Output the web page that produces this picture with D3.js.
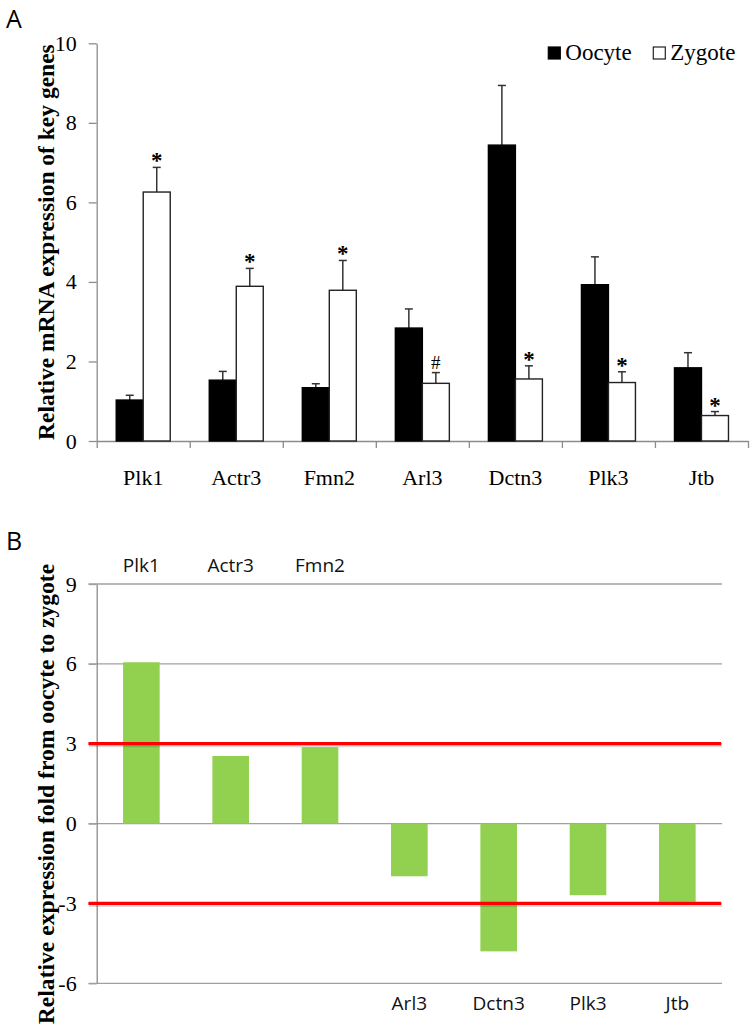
<!DOCTYPE html>
<html><head><meta charset="utf-8">
<script src="https://cdn.jsdelivr.net/npm/d3@7"></script>
<style>html,body{margin:0;padding:0;background:#fff;}svg{display:block;}</style>
</head><body>
<svg id="chart" width="755" height="1029"></svg>
<script>
// ---- data ----
const categories = ["Plk1","Actr3","Fmn2","Arl3","Dctn3","Plk3","Jtb"];
const seriesNames = ["Oocyte","Zygote"];
const oocyte    = [1.03, 1.53, 1.34, 2.84, 7.44, 3.93, 1.84];
const oocyteErr = [0.12, 0.22, 0.10, 0.48, 1.50, 0.70, 0.38];
const zygote    = [6.26, 3.89, 3.79, 1.45, 1.56, 1.47, 0.64];
const zygoteErr = [0.62, 0.45, 0.75, 0.27, 0.33, 0.27, 0.10];
const sigMarks  = ["*","*","*","#","*","*","*"];
const foldChange = [6.06, 2.54, 2.87, -1.98, -4.80, -2.69, -2.94];
const thresholds = [3, -3];
const yTicksA = [0,2,4,6,8,10];
const yTicksB = [-6,-3,0,3,6,9];

const svg = d3.select("#chart");
const serif = "'Liberation Serif','Times New Roman',serif";
const sans = "'Open Sans','Noto Sans',sans-serif";
const axisGrey = "#8c8c8c";

// ================= Panel A =================
const A = {left: 96.7, right: 748, top: 43.3, bottom: 441};
const xA = d3.scaleBand().domain(categories).range([A.left, A.right]).padding(0);
const yA = d3.scaleLinear().domain([0,10]).range([A.bottom, A.top]);
const groupW = 54;
const xInner = d3.scaleBand().domain(seriesNames).range([0, groupW]);
const off = (xA.bandwidth() - groupW) / 2;

svg.append("text").attr("x", 6).attr("y", 28).attr("font-family", sans)
  .attr("font-size", 25).attr("fill", "#000").text("A");

// y axis
const gyA = svg.append("g").attr("transform", `translate(${A.left},0)`)
  .call(d3.axisLeft(yA).tickValues(yTicksA).tickSize(8).tickSizeOuter(0).tickPadding(12).tickFormat(d => String(d)));
gyA.attr("font-family", serif);
gyA.select(".domain").attr("stroke", axisGrey).attr("stroke-width", 1.3);
gyA.selectAll(".tick line").attr("stroke", axisGrey).attr("stroke-width", 1.3);
gyA.selectAll(".tick text").attr("font-family", serif).attr("font-size", 22).attr("fill", "#000");

// x axis (boundary ticks)
const idx = d3.scaleLinear().domain([0, categories.length]).range([A.left, A.right]);
const gxA = svg.append("g").attr("transform", `translate(0,${A.bottom})`)
  .call(d3.axisBottom(idx).tickValues(d3.range(categories.length + 1)).tickSize(7).tickSizeOuter(0).tickFormat(""));
gxA.select(".domain").attr("stroke", axisGrey).attr("stroke-width", 1.3);
gxA.selectAll(".tick line").attr("stroke", axisGrey).attr("stroke-width", 1.3);

// category labels
const gxLab = svg.append("g").attr("transform", `translate(0,${A.bottom})`)
  .call(d3.axisBottom(xA).tickSize(0).tickPadding(28));
gxLab.attr("font-family", serif);
gxLab.select(".domain").remove();
gxLab.selectAll(".tick text").attr("font-family", serif).attr("font-size", 22).attr("fill", "#000");

// bars
const dataA = categories.map((c, i) => ({cat: c, i,
  vals: [{s: "Oocyte", v: oocyte[i], e: oocyteErr[i]}, {s: "Zygote", v: zygote[i], e: zygoteErr[i]}]}));

const groups = svg.append("g").selectAll("g").data(dataA).join("g")
  .attr("transform", d => `translate(${xA(d.cat) + off},0)`);

// error bars (behind bars)
groups.selectAll("g.err").data(d => d.vals).join("g").attr("class", "err").each(function(d) {
  const g = d3.select(this);
  const cx = xInner(d.s) + xInner.bandwidth() / 2;
  g.append("line").attr("x1", cx).attr("x2", cx).attr("y1", yA(d.v)).attr("y2", yA(d.v + d.e))
    .attr("stroke", "#333").attr("stroke-width", 1.5);
  g.append("line").attr("x1", cx - 4).attr("x2", cx + 4).attr("y1", yA(d.v + d.e)).attr("y2", yA(d.v + d.e))
    .attr("stroke", "#333").attr("stroke-width", 1.5);
});

groups.selectAll("rect").data(d => d.vals).join("rect")
  .attr("x", d => xInner(d.s))
  .attr("y", d => yA(d.v))
  .attr("width", xInner.bandwidth())
  .attr("height", d => yA(0) - yA(d.v))
  .attr("fill", d => d.s === "Oocyte" ? "#000" : "#fff")
  .attr("stroke", d => d.s === "Oocyte" ? "#000" : "#222")
  .attr("stroke-width", 1.4);

// significance marks above zygote error bars
groups.append("text")
  .attr("x", xInner("Zygote") + xInner.bandwidth() / 2)
  .attr("y", d => yA(zygote[d.i] + zygoteErr[d.i]) - (sigMarks[d.i] === "#" ? 4 : -1))
  .attr("text-anchor", "middle")
  .attr("font-family", serif)
  .attr("font-size", d => sigMarks[d.i] === "#" ? 19 : 23)
  .attr("font-weight", d => sigMarks[d.i] === "#" ? "normal" : "bold")
  .attr("fill", "#000")
  .text(d => sigMarks[d.i]);

// legend
const legX = [548.3, 653.3];
const leg = svg.append("g").selectAll("g").data(seriesNames).join("g")
  .attr("transform", (d, i) => `translate(${legX[i]},47)`);
leg.append("rect").attr("width", 12).attr("height", 12)
  .attr("fill", d => d === "Oocyte" ? "#000" : "#fff")
  .attr("stroke", d => d === "Oocyte" ? "#000" : "#222").attr("stroke-width", 1.2);
leg.append("text").attr("x", 17).attr("y", 13).attr("font-family", serif).attr("font-size", 23)
  .attr("fill", "#000").text(d => d);

// y title
svg.append("text").attr("transform", `translate(54,${(A.top + A.bottom) / 2}) rotate(-90)`)
  .attr("text-anchor", "middle").attr("font-family", serif).attr("font-weight", "bold")
  .attr("font-size", 23.5).attr("fill", "#000").text("Relative mRNA expression of key genes");

// ================= Panel B =================
const B = {left: 96.7, right: 722, top: 584, bottom: 983.3};
const xB = d3.scaleBand().domain(categories).range([B.left, B.right]).padding(0);
const yB = d3.scaleLinear().domain([-6, 9]).range([B.bottom, B.top]);
const barWB = xB.bandwidth() * 0.41;

svg.append("text").attr("x", 6).attr("y", 550).attr("font-family", sans)
  .attr("font-size", 25).attr("fill", "#000").text("B");

// gridlines
svg.append("g").selectAll("line").data(yTicksB).join("line")
  .attr("x1", 88.5).attr("x2", B.right)
  .attr("y1", d => yB(d)).attr("y2", d => yB(d))
  .attr("stroke", "#a0a0a0").attr("stroke-width", 1.3);

const gyB = svg.append("g").attr("transform", `translate(${B.left},0)`)
  .call(d3.axisLeft(yB).tickValues(yTicksB).tickSize(8).tickSizeOuter(0).tickPadding(12).tickFormat(d => String(d)));
gyB.attr("font-family", serif);
gyB.select(".domain").attr("stroke", axisGrey).attr("stroke-width", 1.3);
gyB.selectAll(".tick line").attr("stroke", "#a0a0a0").attr("stroke-width", 1.3);
gyB.selectAll(".tick text").attr("font-family", serif).attr("font-size", 22).attr("fill", "#000");

// bars
svg.append("g").selectAll("rect").data(foldChange).join("rect")
  .attr("x", (d, i) => xB(categories[i]) + (xB.bandwidth() - barWB) / 2)
  .attr("y", d => yB(Math.max(0, d)))
  .attr("width", barWB)
  .attr("height", d => Math.abs(yB(d) - yB(0)))
  .attr("fill", "#92d050");

// threshold lines
const th = svg.append("g");
th.selectAll("line.sh").data(thresholds).join("line").attr("class", "sh")
  .attr("x1", 89).attr("x2", B.right).attr("y1", d => yB(d) + 2).attr("y2", d => yB(d) + 2)
  .attr("stroke", "#000").attr("stroke-opacity", 0.15).attr("stroke-width", 3);
th.selectAll("line.r").data(thresholds).join("line").attr("class", "r")
  .attr("x1", 88.5).attr("x2", B.right - 1).attr("y1", d => yB(d)).attr("y2", d => yB(d))
  .attr("stroke", "#ff0000").attr("stroke-width", 3.2);

// category labels (above for positive, below for negative)
svg.append("g").selectAll("text").data(categories).join("text")
  .attr("x", d => xB(d) + xB.bandwidth() / 2)
  .attr("y", (d, i) => foldChange[i] >= 0 ? 571.5 : 1010)
  .attr("text-anchor", "middle").attr("font-family", sans).attr("font-size", 19)
  .attr("fill", "#111").text(d => d);

// y title
svg.append("text").attr("transform", `translate(54,${794}) rotate(-90)`)
  .attr("text-anchor", "middle").attr("font-family", serif).attr("font-weight", "bold")
  .attr("font-size", 23.6).attr("fill", "#000").text("Relative expression fold from oocyte to zygote");
</script>
</body></html>
